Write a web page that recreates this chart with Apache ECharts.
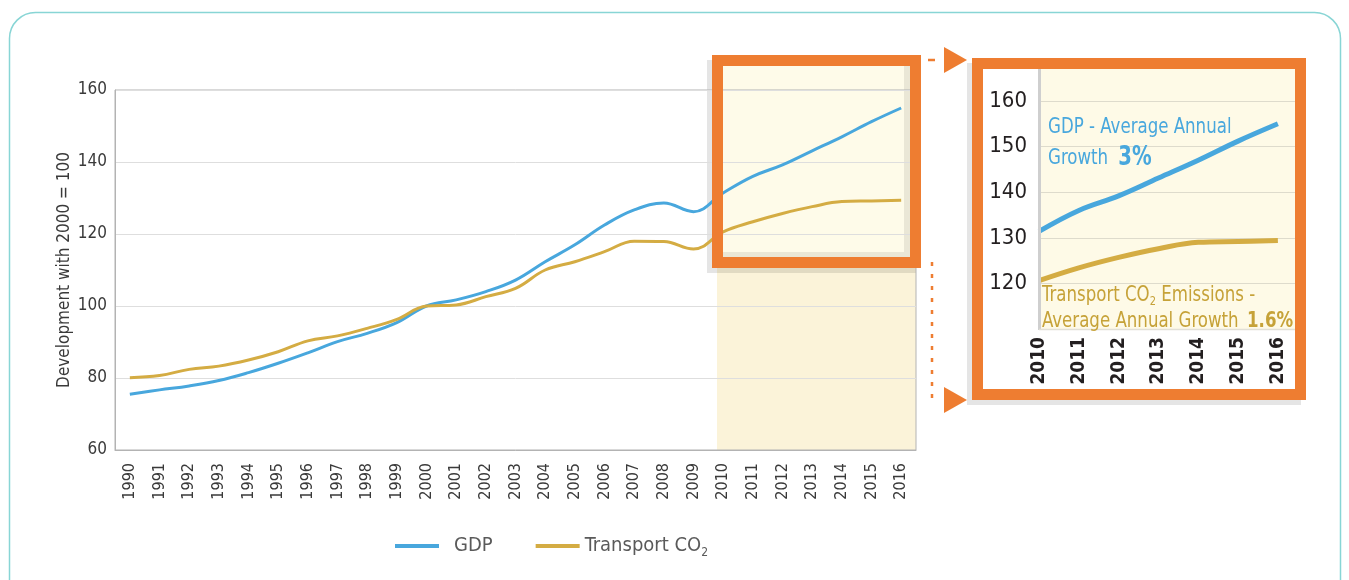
<!DOCTYPE html>
<html>
<head>
<meta charset="utf-8">
<script src="https://cdn.jsdelivr.net/npm/echarts@6/dist/echarts.min.js"></script>
<style>
html, body { margin: 0; padding: 0; background: #fff; }
#chart { width: 1349px; height: 580px; }
</style>
</head>
<body>
<div id="chart"></div>
<script>
// index, 2000 = 100
var years = ['1990', '1991', '1992', '1993', '1994', '1995', '1996', '1997', '1998', '1999',
             '2000', '2001', '2002', '2003', '2004', '2005', '2006', '2007', '2008', '2009',
             '2010', '2011', '2012', '2013', '2014', '2015', '2016'];
var gdp = [75.5, 76.7, 77.8, 79.3, 81.5, 84.1, 87.0, 90.1, 92.4, 95.4,
           100, 101.7, 104.0, 107.2, 112.3, 117.0, 122.5, 126.7, 128.6, 126.2,
           131.4, 136.0, 139.2, 143.1, 147.0, 151.2, 155.0];
var co2 = [80.1, 80.7, 82.4, 83.3, 85.0, 87.3, 90.3, 91.7, 93.8, 96.3,
           100, 100.3, 102.6, 104.9, 110.0, 112.3, 115.1, 118.0, 117.9, 115.8,
           120.6, 123.4, 125.7, 127.6, 129.0, 129.2, 129.4];
var zoomYears = [2010, 2011, 2012, 2013, 2014, 2015, 2016];
var zoomStart = 20;

var F = '"Liberation Sans Narrow", "Arial Narrow", "DejaVu Sans Condensed", sans-serif';
var blue = '#48a7dd';
var gold = '#d4ac43';
var noteGold = '#c6a238';
var orange = '#ee7d31';

function zoomPairs(arr) {
    return zoomYears.map(function (y, i) { return [y, arr[zoomStart + i]]; });
}

var chart = echarts.init(document.getElementById('chart'));
chart.setOption({
    animation: false,
    backgroundColor: '#fff',
    textStyle: { fontFamily: F },
    grid: [
        { left: 115, top: 90, width: 801, height: 360, show: true, borderColor: '#b3b3b3', borderWidth: 1 },
        { left: 1039, top: 101, width: 256, height: 228 }
    ],
    legend: {
        left: 395, top: 536, padding: 0,
        icon: 'rect', itemWidth: 44, itemHeight: 4, itemGap: 43,
        data: ['GDP', 'Transport CO2'],
        formatter: function (name) {
            return name === 'GDP' ? '{g|GDP}' : '{t|Transport CO}{s|2}';
        },
        textStyle: {
            color: '#5a5a5a', fontFamily: F, fontSize: 20,
            rich: {
                g: { fontSize: 20, color: '#5a5a5a', fontFamily: F, padding: [0, 0, 0, 10], lineHeight: 26 },
                t: { fontSize: 20, color: '#5a5a5a', fontFamily: F, lineHeight: 26 },
                s: { fontSize: 12, color: '#5a5a5a', fontFamily: F, lineHeight: 12, verticalAlign: 'bottom' }
            }
        }
    },
    xAxis: [{
        type: 'category', gridIndex: 0, data: years, boundaryGap: true,
        axisLine: { lineStyle: { color: '#b3b3b3' } },
        axisTick: { show: false },
        axisLabel: { interval: 0, rotate: 90, margin: 13, fontSize: 16, color: '#3a3a3a', fontFamily: F }
    }, {
        type: 'value', gridIndex: 1, min: 2010, max: 2016.43, interval: 1,
        axisLine: { show: false }, axisTick: { show: false }, splitLine: { show: false },
        axisLabel: {
            rotate: 90, margin: 8, fontSize: 19, fontWeight: 'bold', color: '#231f20', fontFamily: F,
            formatter: function (v) { return Number.isInteger(v) ? String(v) : ''; }
        }
    }],
    yAxis: [{
        type: 'value', gridIndex: 0, min: 60, max: 160, interval: 20,
        name: 'Development with 2000 = 100', nameLocation: 'middle', nameGap: 42, nameMoveOverlap: false,
        nameTextStyle: { fontSize: 17, color: '#3a3a3a', fontFamily: F },
        axisLine: { show: true, lineStyle: { color: '#b3b3b3' } },
        axisTick: { show: false },
        axisLabel: { margin: 8, fontSize: 17, color: '#3a3a3a', fontFamily: F },
        splitLine: { lineStyle: { color: '#dedede' } }
    }, {
        type: 'value', gridIndex: 1, min: 110, max: 160, interval: 10,
        axisLine: { show: false }, axisTick: { show: false },
        axisLabel: {
            margin: 12, fontSize: 22, color: '#231f20', fontFamily: F,
            formatter: function (v) { return v === 110 ? '' : String(v); }
        },
        splitLine: { lineStyle: { color: '#dedbcc' } }
    }],
    series: [{
        name: 'GDP', type: 'line', xAxisIndex: 0, yAxisIndex: 0, data: gdp,
        smooth: 0.4, showSymbol: false, lineStyle: { color: blue, width: 3 }, itemStyle: { color: blue }
    }, {
        name: 'Transport CO2', type: 'line', xAxisIndex: 0, yAxisIndex: 0, data: co2,
        smooth: 0.4, showSymbol: false, lineStyle: { color: gold, width: 3 }, itemStyle: { color: gold }
    }, {
        name: 'GDP', type: 'line', xAxisIndex: 1, yAxisIndex: 1, data: zoomPairs(gdp),
        smooth: 0.4, showSymbol: false, lineStyle: { color: blue, width: 5 }, itemStyle: { color: blue }
    }, {
        name: 'Transport CO2', type: 'line', xAxisIndex: 1, yAxisIndex: 1, data: zoomPairs(co2),
        smooth: 0.4, showSymbol: false, lineStyle: { color: gold, width: 5 }, itemStyle: { color: gold }
    }],
    graphic: [
        // card outline
        { type: 'rect', z: -20, silent: true, shape: { x: 9.5, y: 12.5, width: 1331, height: 620, r: 26 },
          style: { fill: 'none', stroke: '#88d5d5', lineWidth: 1.5 } },
        // shaded 2010-2016 band
        { type: 'rect', z: -10, silent: true, shape: { x: 717, y: 90, width: 199, height: 360 }, style: { fill: '#fbf3d9' } },
        { type: 'rect', z: -9, silent: true, shape: { x: 723, y: 65, width: 187, height: 192 }, style: { fill: '#fefbe9' } },
        // shadows of the highlight box
        { type: 'rect', z: -8, silent: true, shape: { x: 707, y: 60, width: 5, height: 213 }, style: { fill: 'rgba(0,0,0,0.1)' } },
        { type: 'rect', z: -8, silent: true, shape: { x: 712, y: 268, width: 204, height: 5 }, style: { fill: 'rgba(0,0,0,0.1)' } },
        { type: 'rect', z: -8, silent: true, shape: { x: 904, y: 65, width: 6, height: 192 }, style: { fill: 'rgba(0,0,0,0.08)' } },
        { type: 'rect', z: -8, silent: true, shape: { x: 723, y: 252, width: 181, height: 5 }, style: { fill: 'rgba(0,0,0,0.08)' } },
        // highlight box frame
        { type: 'rect', z: 100, silent: true, shape: { x: 717.5, y: 60.5, width: 198, height: 202 },
          style: { fill: 'none', stroke: orange, lineWidth: 11 } },
        // connectors
        { type: 'line', z: 100, silent: true, shape: { x1: 928, y1: 60, x2: 935, y2: 60 }, style: { stroke: orange, lineWidth: 2.5 } },
        { type: 'polygon', z: 100, silent: true, shape: { points: [[944, 47], [967, 60], [944, 73]] }, style: { fill: orange } },
        { type: 'line', z: 100, silent: true, shape: { x1: 932, y1: 262, x2: 932, y2: 398 },
          style: { stroke: orange, lineWidth: 2.5, lineDash: [4, 8] } },
        { type: 'polygon', z: 100, silent: true, shape: { points: [[944, 387], [967, 400], [944, 413]] }, style: { fill: orange } },
        // inset box
        { type: 'rect', z: -12, silent: true, shape: { x: 967, y: 63, width: 334, height: 342 }, style: { fill: '#e5e5e5' } },
        { type: 'rect', z: -11, silent: true, shape: { x: 977.5, y: 63.5, width: 323, height: 331 },
          style: { fill: '#fff', stroke: orange, lineWidth: 11 } },
        { type: 'rect', z: -10, silent: true, shape: { x: 1039, y: 69, width: 256, height: 260 }, style: { fill: '#fefae7' } },
        { type: 'line', z: 5, silent: true, shape: { x1: 1039.5, y1: 69, x2: 1039.5, y2: 330 }, style: { stroke: '#cfcfcf', lineWidth: 3 } },
        { type: 'line', z: 5, silent: true, shape: { x1: 1039, y1: 329.5, x2: 1295, y2: 329.5 }, style: { stroke: '#e2e0d6', lineWidth: 1.5 } },
        // inset notes
        { type: 'text', z: 10, silent: true, x: 1048, y: 127, scaleX: 0.84,
          style: { text: 'GDP - Average Annual', font: '22px ' + F, fill: blue, textVerticalAlign: 'middle' } },
        { type: 'text', z: 10, silent: true, x: 1048, y: 158, scaleX: 0.84,
          style: { text: '{a|Growth}{b|3%}', textVerticalAlign: 'middle',
                   rich: { a: { fontSize: 22, fontFamily: F, fill: blue },
                           b: { fontSize: 26, fontWeight: 'bold', fontFamily: F, fill: blue, padding: [0, 0, 0, 12] } } } },
        { type: 'text', z: 10, silent: true, x: 1042, y: 295, scaleX: 0.84,
          style: { text: '{a|Transport CO}{s|2}{a| Emissions -}', textVerticalAlign: 'middle',
                   rich: { a: { fontSize: 22, fontFamily: F, fill: noteGold, lineHeight: 26 },
                           s: { fontSize: 13, fontFamily: F, fill: noteGold, lineHeight: 13, verticalAlign: 'bottom' } } } },
        { type: 'text', z: 10, silent: true, x: 1042, y: 321, scaleX: 0.84,
          style: { text: '{a|Average Annual Growth}{b|1.6%}', textVerticalAlign: 'middle',
                   rich: { a: { fontSize: 22, fontFamily: F, fill: noteGold },
                           b: { fontSize: 22, fontWeight: 'bold', fontFamily: F, fill: noteGold, padding: [0, 0, 0, 10] } } } }
    ]
});
</script>
</body>
</html>
